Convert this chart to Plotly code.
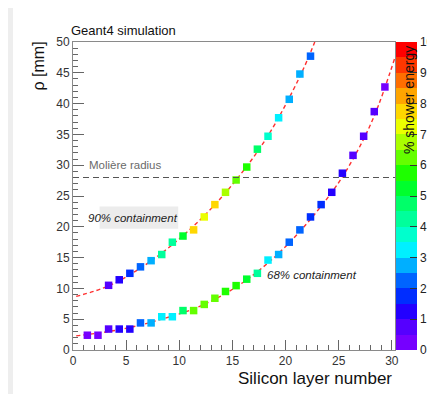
import plotly.graph_objects as go

# ---------------- data ----------------
layers90 = [3.35, 4.35, 5.35, 6.35, 7.35, 8.35, 9.35, 10.35, 11.35, 12.35,
            13.35, 14.35, 15.35, 16.35, 17.35, 18.35, 19.35, 20.35, 21.35, 22.35]
rho90 = [10.5, 11.4, 12.45, 13.5, 14.5, 15.5, 17.5, 18.5, 19.5, 21.6,
         23.6, 25.6, 27.6, 29.7, 32.6, 34.7, 37.7, 40.7, 44.8, 47.7]
energy90 = [0.8, 1.2, 1.8, 2.3, 2.8, 4.2, 4.4, 5.2, 7.6, 7.3,
            7.6, 6.8, 6.3, 5.7, 4.7, 3.8, 3.2, 2.8, 2.6, 2.0]

layers68 = [1.35, 2.35, 3.35, 4.35, 5.35, 6.35, 7.35, 8.35, 9.35, 10.35,
            11.35, 12.35, 13.35, 14.35, 15.35, 16.35, 17.35, 18.35, 19.35, 20.35,
            21.35, 22.35, 23.35, 24.35, 25.35, 26.35, 27.35, 28.35, 29.35]
rho68 = [2.4, 2.4, 3.4, 3.4, 3.4, 4.4, 4.4, 5.4, 5.4, 6.4,
         6.4, 7.4, 8.4, 9.5, 10.45, 11.5, 12.45, 14.6, 15.5, 17.5,
         19.5, 21.6, 23.6, 25.6, 28.7, 31.6, 34.7, 38.7, 42.7]
energy68 = [0.3, 0.3, 0.8, 1.2, 1.2, 2.3, 2.6, 3.2, 3.2, 4.7,
            6.2, 6.2, 6.0, 5.9, 5.8, 5.2, 4.2, 3.2, 2.7, 2.0,
            2.3, 1.8, 1.6, 1.3, 1.1, 0.8, 0.7, 0.6, 0.4]

fit90_x = [0.3, 3.35, 6.35, 9.35, 12.35, 15.35, 18.35, 21.35, 22.75]
fit90_y = [8.7, 10.4, 13.3, 17.1, 21.8, 27.6, 34.8, 44.4, 50.0]
fit68_x = [0.3, 4.35, 8.35, 12.35, 16.35, 20.35, 24.35, 26.35, 28.35, 30.3]
fit68_y = [2.3, 3.3, 5.0, 7.4, 11.4, 17.4, 25.6, 31.0, 38.0, 47.5]

moliere_radius = 28.0
x_ticks = [0, 5, 10, 15, 20, 25, 30]
y_ticks = [0, 5, 10, 15, 20, 25, 30, 35, 40, 45, 50]
z_ticks = [0, 1, 2, 3, 4, 5, 6, 7, 8, 9, 10]

# ---------------- style ----------------
band_colors = [
    "rgb(118,0,255)", "rgb(85,0,255)", "rgb(35,0,255)", "rgb(0,45,255)",
    "rgb(0,100,255)", "rgb(0,175,255)", "rgb(0,240,255)", "rgb(0,255,205)",
    "rgb(0,255,155)", "rgb(0,255,105)", "rgb(0,255,45)", "rgb(30,255,0)",
    "rgb(100,255,0)", "rgb(170,255,0)", "rgb(235,255,0)", "rgb(255,215,0)",
    "rgb(255,165,0)", "rgb(255,110,0)", "rgb(255,55,0)", "rgb(255,0,0)",
]
n = len(band_colors)
cscale = []
for i, c in enumerate(band_colors):
    cscale.append([i / n, c])
    cscale.append([(i + 1) / n, c])

FONT = "Liberation Sans, Arial, Helvetica, sans-serif"
OFF = 8                       # default page body margin
W, H = 435 - OFF, 394 - OFF   # figure size so it fits the window
# plot area in page pixels: x 73..395, y 42..350
L, T = 73 - OFF, 42 - OFF
R = W - (395 - OFF)
B = H - (350 - OFF)
pw = W - L - R
ph = H - T - B


def px_x(p):
    """page x pixel -> paper coordinate"""
    return (p - OFF - L) / pw


def px_y(p):
    """page y pixel -> paper coordinate"""
    return (H - B - (p - OFF)) / ph


fig = go.Figure()

fig.add_trace(go.Scatter(x=fit90_x, y=fit90_y, mode="lines", line_shape="spline",
                         line=dict(color="#ff3030", width=1.4, dash="4px,3px"),
                         hoverinfo="skip", showlegend=False))
fig.add_trace(go.Scatter(x=fit68_x, y=fit68_y, mode="lines", line_shape="spline",
                         line=dict(color="#ff3030", width=1.4, dash="4px,3px"),
                         hoverinfo="skip", showlegend=False))

marker_common = dict(symbol="square", size=7.5, colorscale=cscale, cmin=0, cmax=10,
                     line=dict(width=0))

fig.add_trace(go.Scatter(
    x=layers90, y=rho90, mode="markers", showlegend=False,
    marker=dict(color=energy90, showscale=False, **marker_common)))
fig.add_trace(go.Scatter(
    x=layers68, y=rho68, mode="markers", showlegend=False,
    marker=dict(color=energy68, showscale=True, **marker_common,
                colorbar=dict(thickness=21, thicknessmode="pixels",
                              len=1, lenmode="fraction", x=px_x(396), xanchor="left",
                              y=0.5, yanchor="middle", xpad=0, ypad=0,
                              outlinewidth=0, tickvals=z_ticks,
                              ticks="inside", ticklen=7, tickcolor="#333",
                              tickwidth=1,
                              tickfont=dict(family=FONT, size=12, color="#222")))))

shapes = [
    dict(type="rect", xref="paper", yref="paper",
         x0=px_x(7), x1=px_x(13), y0=px_y(400), y1=px_y(0),
         fillcolor="#eeeeee", line=dict(width=0), layer="below"),
    dict(type="rect", xref="x", yref="y", x0=2.5, x1=9.9, y0=19.7, y1=23.3,
         fillcolor="#ececec", line=dict(width=0), layer="below"),
    dict(type="line", xref="x", yref="y", x0=0, x1=30.3,
         y0=moliere_radius, y1=moliere_radius,
         line=dict(color="#555", width=1.2, dash="6px,4px")),
]

annotations = [
    dict(text="Geant4 simulation", xref="paper", yref="paper",
         x=px_x(69), y=px_y(30), xanchor="left", yanchor="middle", showarrow=False,
         font=dict(family=FONT, size=13, color="#111")),
    dict(text="ρ [mm]", xref="paper", yref="paper", textangle=-90,
         x=px_x(38), y=px_y(40), xanchor="center", yanchor="top", showarrow=False,
         font=dict(family=FONT, size=16, color="#111")),
    dict(text="Silicon layer number", xref="paper", yref="paper",
         x=px_x(394), y=px_y(378), xanchor="right", yanchor="middle", showarrow=False,
         font=dict(family=FONT, size=17, color="#111")),
    dict(text="% shower energy", xref="paper", yref="paper", textangle=-90,
         x=px_x(409), y=px_y(44), xanchor="center", yanchor="top", showarrow=False,
         font=dict(family=FONT, size=14, color="#111")),
    dict(text="Molière radius", xref="x", yref="y", x=1.3, y=30.0,
         xanchor="left", yanchor="middle", showarrow=False,
         font=dict(family=FONT, size=11.5, color="#6a6a6a")),
    dict(text="<i>90% containment</i>", xref="x", yref="y", x=1.25, y=21.4,
         xanchor="left", yanchor="middle", showarrow=False,
         font=dict(family=FONT, size=11.5, color="#222")),
    dict(text="<i>68% containment</i>", xref="x", yref="y", x=18.1, y=12.2,
         xanchor="left", yanchor="middle", showarrow=False,
         font=dict(family=FONT, size=11.5, color="#222")),
]

axis_common = dict(showline=True, linecolor="#8a8a8a", linewidth=1, mirror=True,
                   ticks="inside", tickcolor="#666", tickwidth=1,
                   showgrid=False, zeroline=False,
                   tickfont=dict(family=FONT, size=12, color="#333"))

fig.update_layout(
    width=W, height=H,
    margin=dict(l=L, r=R, t=T, b=B, autoexpand=False),
    paper_bgcolor="white", plot_bgcolor="white",
    xaxis=dict(range=[0, 30.3], tickvals=x_ticks, ticklen=10,
               minor=dict(ticks="inside", dtick=1, tick0=0, ticklen=5, tickcolor="#666"),
               **axis_common),
    yaxis=dict(range=[0, 50], tickvals=y_ticks, ticklen=11,
               minor=dict(ticks="inside", dtick=1, tick0=0, ticklen=5, tickcolor="#666"),
               **axis_common),
    shapes=shapes, annotations=annotations,
)

fig.write_html("out.html")
